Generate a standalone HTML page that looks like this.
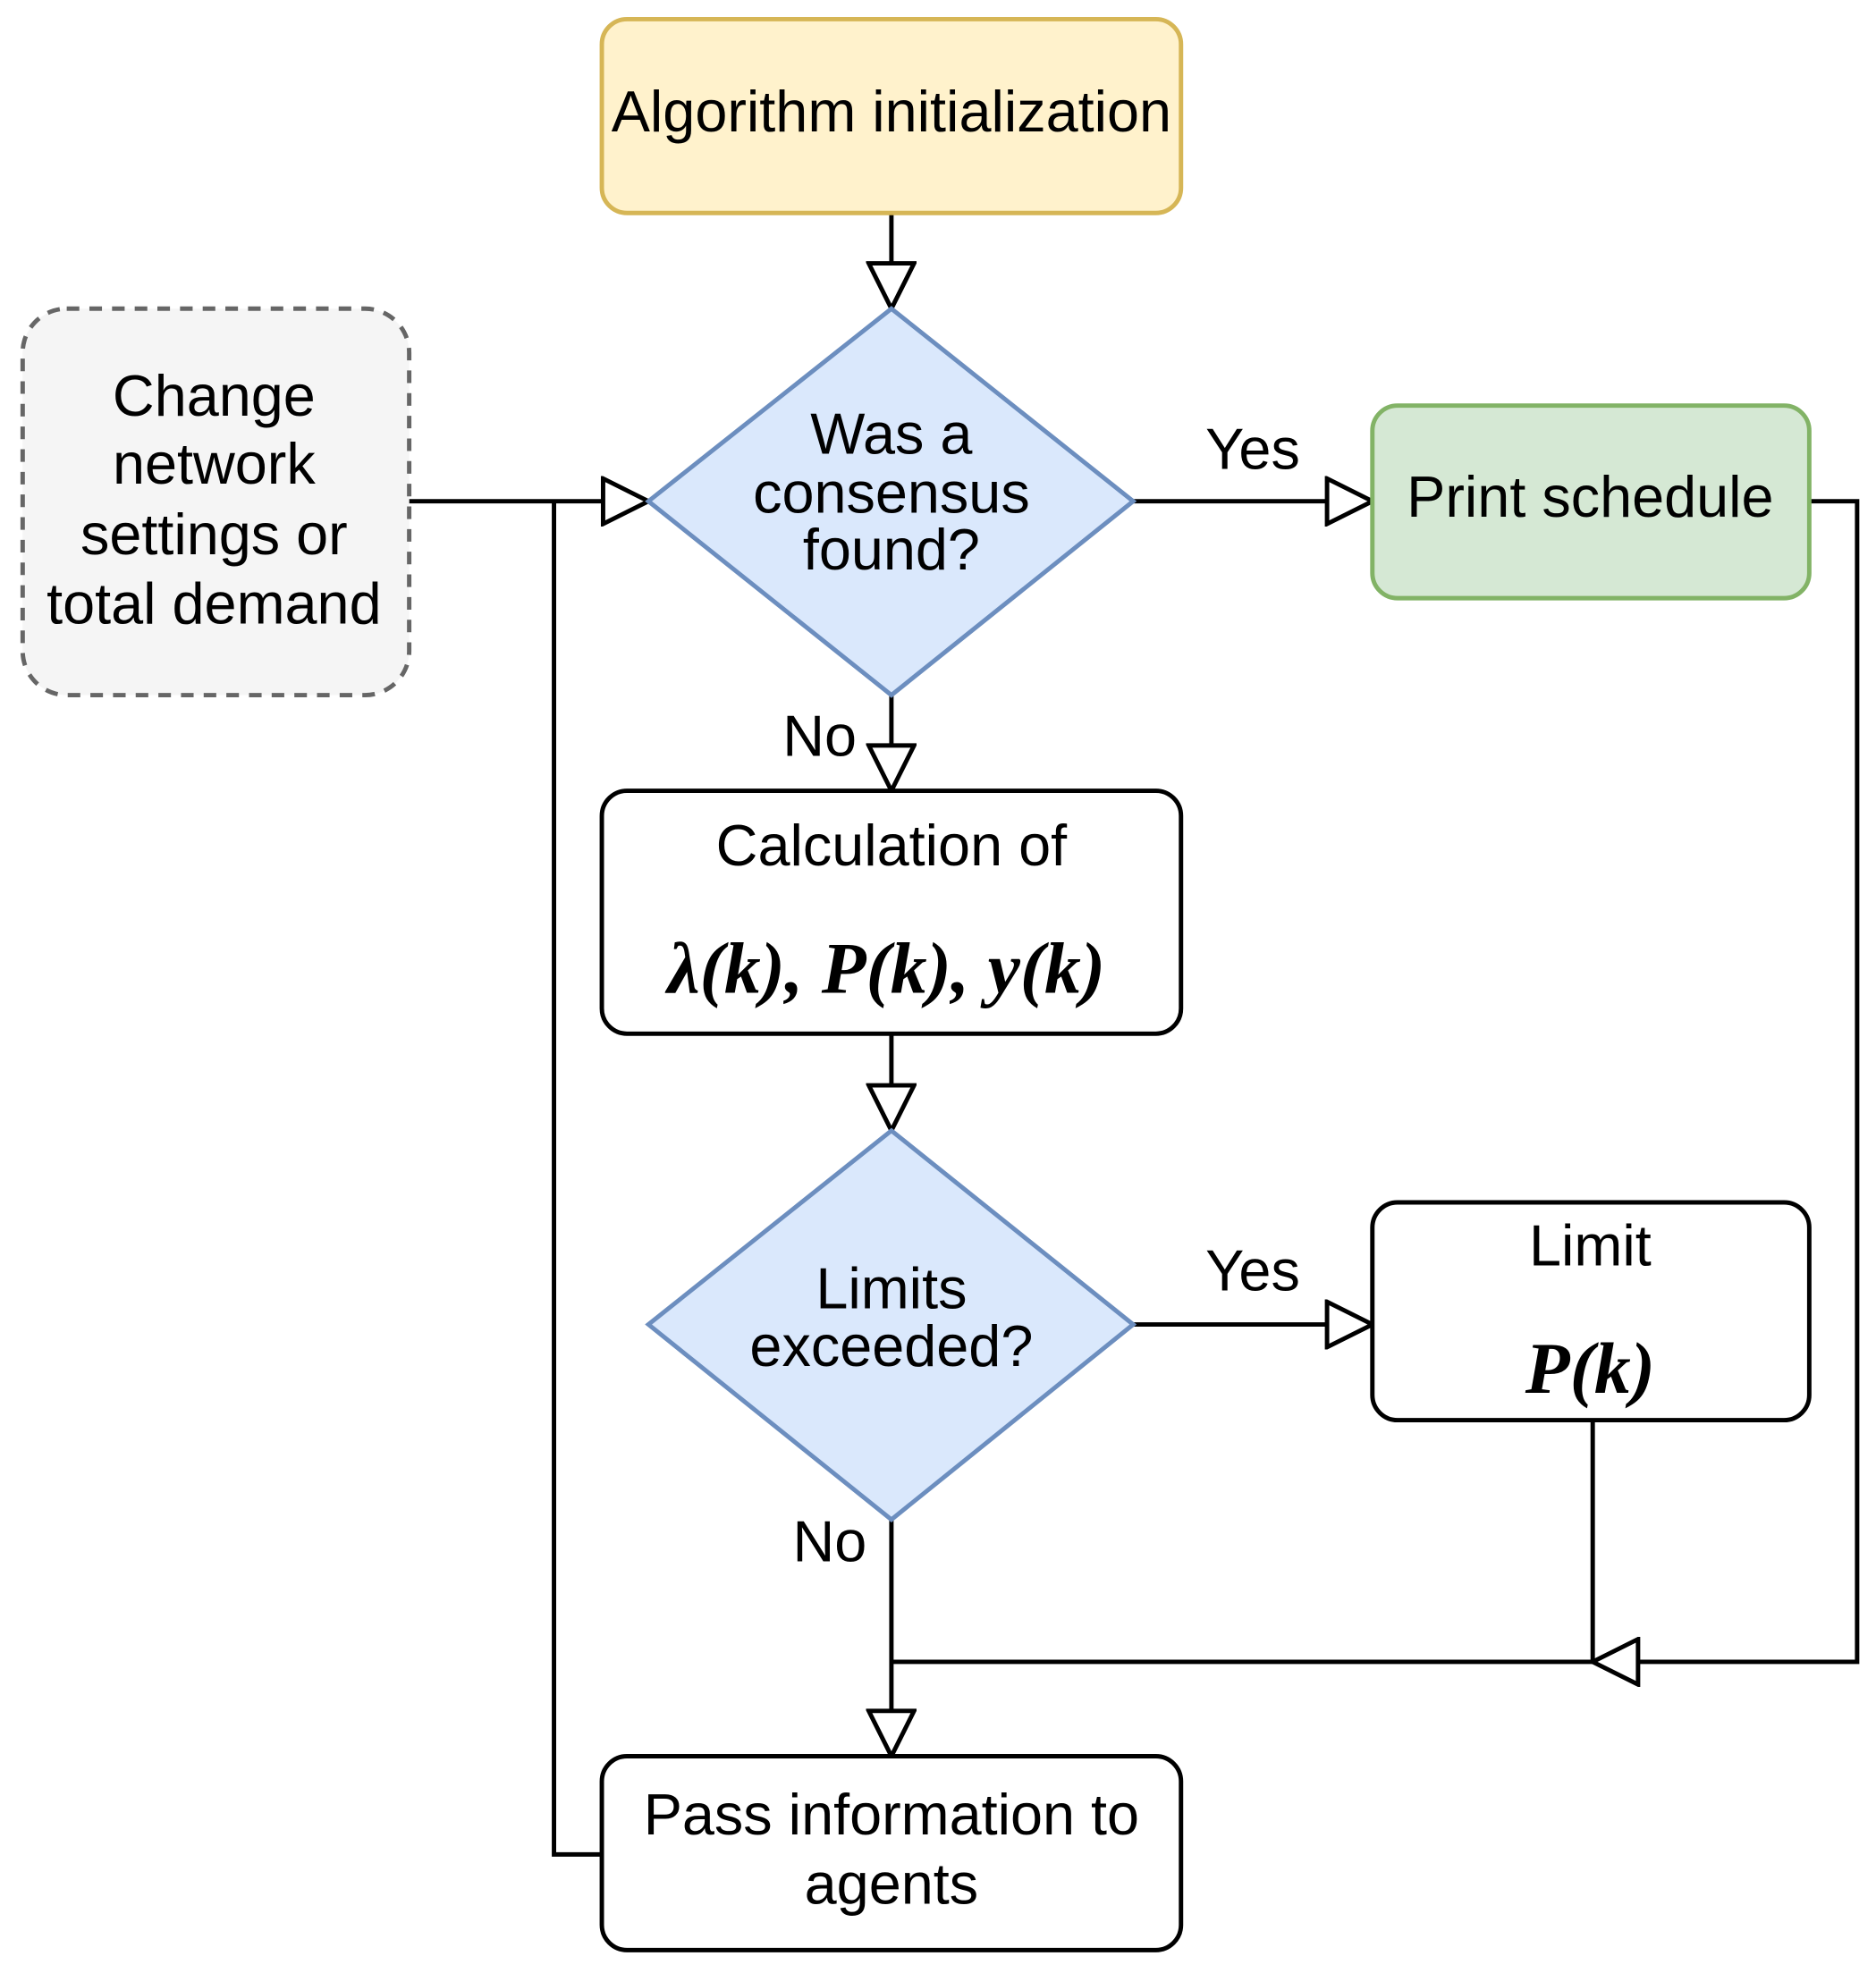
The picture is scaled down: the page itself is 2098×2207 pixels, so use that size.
<!DOCTYPE html>
<html><head><meta charset="utf-8"><style>
html,body{margin:0;padding:0;background:#fff;}
svg{display:block;}
text{font-family:"Liberation Sans",sans-serif;font-size:46px;fill:#000;text-anchor:middle;dominant-baseline:middle;}
.m{font-family:"Liberation Serif",serif;font-style:italic;font-weight:bold;font-size:58px;}
</style></head><body>
<svg width="2098" height="2207" viewBox="0 0 1490 1567" xmlns="http://www.w3.org/2000/svg">
<defs>
<marker id="a" viewBox="0 0 40 40" refX="38" refY="20" markerWidth="40" markerHeight="40" markerUnits="userSpaceOnUse" orient="auto">
<path d="M2,2 L38,20 L2,38 Z" fill="#fff" stroke="#000" stroke-width="3.5"/>
</marker>
</defs>
<g fill="none" stroke="#000" stroke-width="3.5">
<line x1="708" y1="169" x2="708" y2="245" marker-end="url(#a)"/>
<line x1="325" y1="398" x2="515" y2="398" marker-end="url(#a)"/>
<line x1="900" y1="398" x2="1090" y2="398" marker-end="url(#a)"/>
<line x1="708" y1="552" x2="708" y2="628" marker-end="url(#a)"/>
<line x1="708" y1="821" x2="708" y2="898" marker-end="url(#a)"/>
<line x1="900" y1="1052" x2="1090" y2="1052" marker-end="url(#a)"/>
<line x1="708" y1="1207" x2="708" y2="1395" marker-end="url(#a)"/>
<line x1="708" y1="1320" x2="1265" y2="1320"/>
<polyline points="1437,398 1475,398 1475,1320 1265,1320" marker-end="url(#a)"/>
<line x1="1265" y1="1128" x2="1265" y2="1320"/>
<polyline points="478,1473 440,1473 440,398"/>
</g>
<rect x="478" y="15" width="460" height="154" rx="20" fill="#fff2cc" stroke="#d6b656" stroke-width="3.5"/>
<text x="708" y="92">Algorithm initialization</text>
<polygon points="708,245 900,398 708,552 515,398" fill="#dae8fc" stroke="#6c8ebf" stroke-width="3.5"/>
<text x="708" y="348">Was a</text><text x="708" y="395">consensus</text><text x="708" y="440">found?</text>
<rect x="18" y="245" width="307" height="307" rx="35" fill="#f5f5f5" stroke="#666" stroke-width="3.5" stroke-dasharray="10,8"/>
<text x="170" y="318" fill="#333">Change</text><text x="170" y="372" fill="#333">network</text><text x="170" y="428" fill="#333">settings or</text><text x="170" y="483" fill="#333">total demand</text>
<text x="995" y="360">Yes</text>
<rect x="1090" y="322" width="347" height="153" rx="20" fill="#d5e8d4" stroke="#82b366" stroke-width="3.5"/>
<text x="1263" y="398">Print schedule</text>
<text x="651" y="588">No</text>
<rect x="478" y="628" width="460" height="193" rx="20" fill="#fff" stroke="#000" stroke-width="3.5"/>
<text x="708" y="675">Calculation of</text>
<text class="m" x="704" y="775">λ(k), P(k), y(k)</text>
<polygon points="708,898 900,1052 708,1207 515,1052" fill="#dae8fc" stroke="#6c8ebf" stroke-width="3.5"/>
<text x="708" y="1027">Limits</text><text x="708" y="1073">exceeded?</text>
<text x="995" y="1013">Yes</text>
<rect x="1090" y="955" width="347" height="173" rx="20" fill="#fff" stroke="#000" stroke-width="3.5"/>
<text x="1263" y="993">Limit</text>
<text class="m" x="1263" y="1093">P(k)</text>
<text x="659" y="1228">No</text>
<rect x="478" y="1395" width="460" height="154" rx="20" fill="#fff" stroke="#000" stroke-width="3.5"/>
<text x="708" y="1445">Pass information to</text><text x="708" y="1500">agents</text>
</svg>
</body></html>
